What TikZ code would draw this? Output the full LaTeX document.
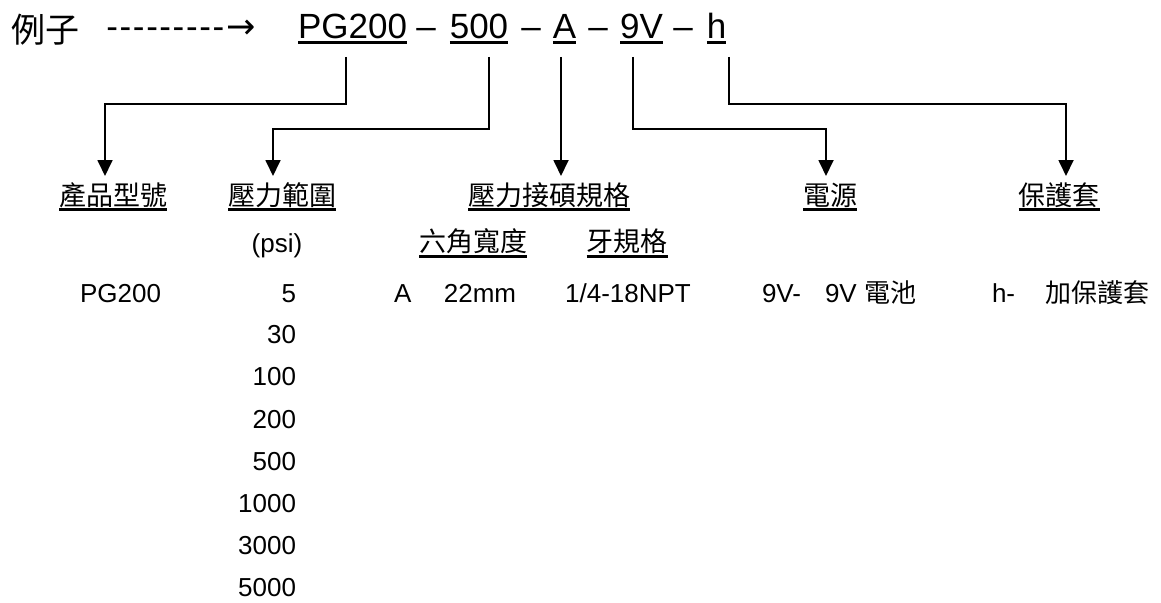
\documentclass[tikz,border=0pt]{standalone}
\usepackage{fontspec}
\setmainfont{Liberation Sans}
\newfontfamily\cjk{Noto Sans CJK TC}
\newfontfamily\symf{DejaVu Sans}
\usetikzlibrary{arrows.meta}
\tikzset{
  every node/.style={inner sep=0pt, outer sep=0pt},
  tlat/.style={font=\fontsize{35}{40}\selectfont, anchor=base},
  tcjk/.style={font=\fontsize{34}{40}\selectfont\cjk, anchor=base},
  lab/.style={font=\fontsize{27}{32}\selectfont\cjk, anchor=base},
  dat/.style={font=\fontsize{26}{30}\selectfont, anchor=base},
  datc/.style={font=\fontsize{26}{30}\selectfont\cjk, anchor=base west},
  ul/.style={line width=2.2pt},
  conn/.style={line width=1.8pt, -{Triangle[width=15pt,length=16pt]}},
}
\newcommand{\ulof}[2]{\draw[ul] ([yshift=-#2]#1.base west) -- ([yshift=-#2]#1.base east);}
\newcommand{\hy}{-\kern1.6pt}
\begin{document}
\begin{tikzpicture}[x=1pt,y=-1pt]
\useasboundingbox (0,0) rectangle (1161,602);
% title row
\node[tcjk] (ex) at (46,42) {例子};
\node[tlat] (dash) at (181,38) {\hy\hy\hy\hy\hy\hy\hy\hy-\kern2pt{\symf →}};
\node[tlat] (tPG) at (352.5,38) {PG200};
\node[tlat] (d1) at (426,38) {–};
\node[tlat] (t500) at (479,38) {500};
\node[tlat] (d2) at (531,38) {–};
\node[tlat] (tA) at (564.5,38) {A};
\node[tlat] (d3) at (598,38) {–};
\node[tlat] (t9V) at (641.5,38) {9V};
\node[tlat] (d4) at (683,38) {–};
\node[tlat] (th) at (716.5,38) {h};
\ulof{tPG}{4.5pt}\ulof{t500}{4.5pt}\ulof{tA}{4.5pt}\ulof{t9V}{4.5pt}\ulof{th}{4.5pt}
% labels
\node[lab] (l1) at (113,205) {產品型號};
\node[lab] (l2) at (282,205) {壓力範圍};
\node[lab] (l3) at (549,205) {壓力接碩規格};
\node[lab] (l4) at (830,205) {電源};
\node[lab] (l5) at (1059,205) {保護套};
\ulof{l1}{4.5pt}\ulof{l2}{4.5pt}\ulof{l3}{4.5pt}\ulof{l4}{4.5pt}\ulof{l5}{4.5pt}
% connectors
\coordinate (s1) at (346,57);  \coordinate (e1) at (105,176);
\coordinate (s2) at (489,57);  \coordinate (e2) at (273,176);
\coordinate (s3) at (561,57);  \coordinate (e3) at (561,176);
\coordinate (s4) at (633,57);  \coordinate (e4) at (826,176);
\coordinate (s5) at (729,57);  \coordinate (e5) at (1066,176);
\draw[conn] (s1) -- ++(0,47) -| (e1);
\draw[conn] (s2) -- ++(0,72) -| (e2);
\draw[conn] (s3) -- (e3);
\draw[conn] (s4) -- ++(0,72) -| (e4);
\draw[conn] (s5) -- ++(0,47) -| (e5);
% sub labels
\node[lab] (sl1) at (473,251) {六角寬度};
\node[lab] (sl2) at (627,251) {牙規格};
\ulof{sl1}{5.5pt}\ulof{sl2}{5.5pt}
\node[dat] (psi) at (277,252) {(psi)};
% data
\node[dat] (dPG) at (120.5,302) {PG200};
\node[dat, anchor=base east] (p1) at (296,302) {5};
\node[dat, anchor=base east] (p2) at (296,343.5) {30};
\node[dat, anchor=base east] (p3) at (296,385.5) {100};
\node[dat, anchor=base east] (p4) at (296,428) {200};
\node[dat, anchor=base east] (p5) at (296,470.5) {500};
\node[dat, anchor=base east] (p6) at (296,512.5) {1000};
\node[dat, anchor=base east] (p7) at (296,554.5) {3000};
\node[dat, anchor=base east] (p8) at (296,596.5) {5000};
\node[dat, anchor=base west] (dA) at (394,302) {A};
\node[dat] (d22) at (480,302) {22mm};
\node[dat] (dnpt) at (628,302) {1/4-18NPT};
\node[dat, anchor=base west] (d9a) at (762,302) {9V-};
\node[dat, anchor=base west] (d9b) at (825,302) {9V {\cjk 電池}};
\node[dat, anchor=base west] (dh) at (992,302) {h-};
\node[datc] (dhc) at (1045,302) {加保護套};
\end{tikzpicture}
\end{document}
